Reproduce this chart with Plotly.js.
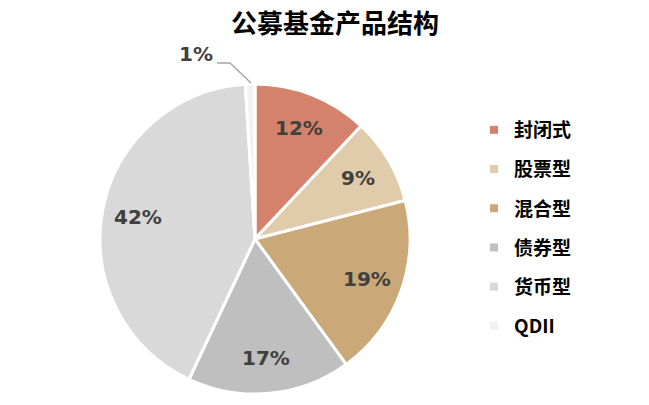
<!DOCTYPE html>
<html><head><meta charset="utf-8">
<script src="https://cdn.plot.ly/plotly-3.0.1.min.js"></script>
<style>html,body{margin:0;padding:0;background:#fff}</style>
</head><body>
<div id="chart" style="width:649px;height:405px"></div>
<script>
const categories = ['封闭式','股票型','混合型','债券型','货币型','QDII'];
const shares = [12, 9, 19, 17, 42, 1];
const colors = ['#D4826C','#E0CBAA','#CBA877','#BFBFBF','#D9D9D9','#F2F2F2'];
const FONT = '"Noto Sans CJK SC", "Noto Sans", sans-serif';
const NUMFONT = '"DejaVu Sans", sans-serif';

const W = 649, H = 405;
const dom = {x: [100/W, 410/W], y: [11/H, 321/H]};

const pie = {
  type: 'pie',
  labels: categories,
  values: shares,
  sort: false,
  direction: 'clockwise',
  rotation: 0,
  marker: {colors: colors, line: {color: '#ffffff', width: 3}},
  textinfo: 'none',
  showlegend: false,
  hoverinfo: 'none',
  domain: dom
};

const legendTraces = categories.map((c, i) => ({
  type: 'scatter', mode: 'markers', x: [null], y: [null],
  name: c, legendgroup: 'g' + i,
  marker: {symbol: 'square', size: 8, color: colors[i]},
  showlegend: true, hoverinfo: 'none'
}));

// percentage labels placed along each slice's mid-angle (Excel-style)
const total = shares.reduce((a, b) => a + b, 0);
const cxp = (dom.x[0] + dom.x[1]) / 2 * W;
const cyp = (1 - (dom.y[0] + dom.y[1]) / 2) * H;
const R = Math.min((dom.x[1] - dom.x[0]) * W, (dom.y[1] - dom.y[0]) * H) / 2;
const annotations = [];
let cum = 0;
shares.forEach((v, i) => {
  const mid = (cum + v / 2) / total;
  cum += v;
  if (i === shares.length - 1) return;
  const th = mid * 2 * Math.PI;
  const r = 0.77 * R;
  const px = cxp + r * Math.sin(th), py = cyp - r * Math.cos(th);
  annotations.push({
    xref: 'paper', yref: 'paper', x: px / W, y: 1 - py / H, xanchor: 'center', yanchor: 'middle',
    text: '<b>' + Math.round(v / total * 100) + '%</b>', showarrow: false,
    font: {family: NUMFONT, size: 20, color: '#404040'}
  });
});
const last = shares.length - 1;
annotations.push({
  xref: 'paper', yref: 'paper', x: 196/W, y: 1 - 54/H, xanchor: 'center', yanchor: 'middle',
  text: '<b>' + Math.round(shares[last] / total * 100) + '%</b>', showarrow: false,
  font: {family: NUMFONT, size: 20, color: '#404040'}
});

const layout = {
  width: W, height: H,
  margin: {l: 0, r: 0, t: 0, b: 0},
  paper_bgcolor: '#fff', plot_bgcolor: '#fff',
  title: {text: '<b>公募基金产品结构</b>', x: 335/W, xanchor: 'center', y: 1 - 24/H, yanchor: 'middle',
          font: {family: FONT, size: 26, color: '#000'}},
  xaxis: {visible: false, domain: [0.99, 1]},
  yaxis: {visible: false, domain: [0.99, 1]},
  legend: {x: 474/W, xanchor: 'left', y: 1 - 111/H, yanchor: 'top',
           font: {family: FONT, size: 19, color: '#000', weight: 'bold'},
           tracegroupgap: 11.5, bgcolor: 'rgba(0,0,0,0)'},
  annotations: annotations,
  shapes: [{
    type: 'path', xref: 'paper', yref: 'paper',
    path: 'M ' + 217/W + ' ' + (1 - 63/H) + ' L ' + 230/W + ' ' + (1 - 63/H) + ' L ' + 251/W + ' ' + (1 - 83/H),
    line: {color: '#A6A6A6', width: 1.3}
  }]
};

Plotly.newPlot('chart', [pie].concat(legendTraces), layout, {displayModeBar: false, staticPlot: true});
</script>
</body></html>
